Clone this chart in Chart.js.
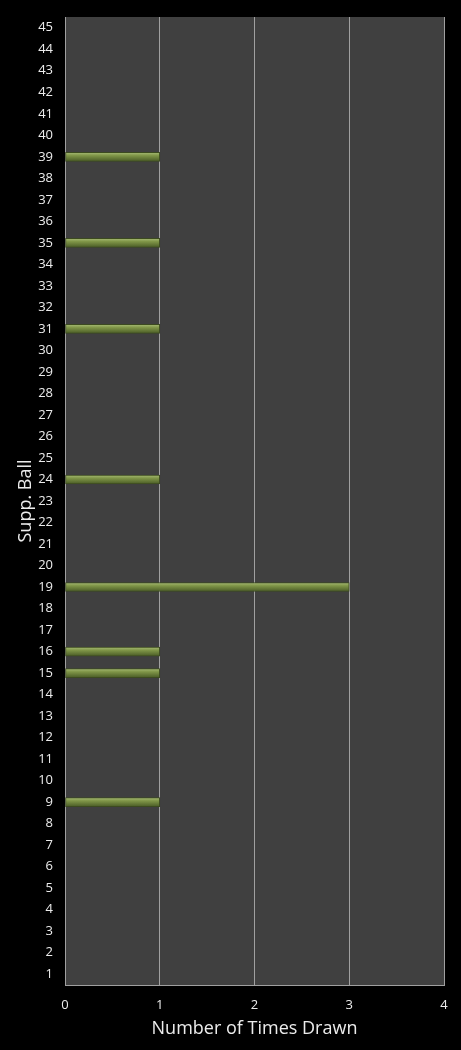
<!DOCTYPE html>
<html>
<head>
<meta charset="utf-8">
<script src="https://cdn.jsdelivr.net/npm/chart.js@4"></script>
<style>
  html, body { margin: 0; padding: 0; background: #000; }
  #wrap { width: 461px; height: 1050px; }
</style>
</head>
<body>
<div id="wrap"><canvas id="grafico"></canvas></div>
<script>
// numeros da bola suplementar (1..45) e quantas vezes sairam
const bolas = [];
for (let i = 1; i <= 45; i++) bolas.push(String(i));
const vezes = [0,0,0,0,0,0,0,0,1,0, 0,0,0,0,1,1,0,0,3,0, 0,0,0,1,0,0,0,0,0,0, 1,0,0,0,1,0,0,0,1,0, 0,0,0,0,0];
const ticksX = [0, 1, 2, 3, 4];

const fonte = "'Open Sans', 'DejaVu Sans', sans-serif";

// fundo cinza da area do grafico
const fundoArea = {
    id: 'fundoArea',
    beforeDraw(chart) {
        const { ctx, chartArea: a } = chart;
        ctx.save();
        ctx.fillStyle = '#404040';
        ctx.fillRect(a.left, a.top, a.right - a.left, a.bottom - a.top);
        ctx.restore();
    }
};

// gradiente verde em cada barra
function corBarra(c) {
    const chart = c.chart;
    const y = chart.scales.y;
    if (!y || c.dataIndex === undefined) return '#6f8440';
    const py = y.getPixelForValue(c.dataIndex);
    if (!isFinite(py)) return '#6f8440';
    const g = chart.ctx.createLinearGradient(0, py - 4.5, 0, py + 4.5);
    g.addColorStop(0, '#a8bc76');
    g.addColorStop(0.35, '#809648');
    g.addColorStop(1, '#4a5c26');
    return g;
}

new Chart(document.getElementById('grafico'), {
    type: 'bar',
    data: {
        labels: bolas,
        datasets: [{
            data: vezes,
            backgroundColor: corBarra,
            borderColor: '#3c4a20',
            borderWidth: 1,
            borderSkipped: false,
            barThickness: 9
        }]
    },
    options: {
        indexAxis: 'y',
        responsive: true,
        maintainAspectRatio: false,
        animation: false,
        layout: { padding: { top: 17, right: 17, bottom: 10, left: 0 } },
        plugins: { legend: { display: false }, tooltip: { enabled: false } },
        scales: {
            x: {
                min: 0, max: 4,
                afterBuildTicks: s => { s.ticks = ticksX.map(v => ({ value: v })); },
                afterFit: s => { s.height = 55; s.paddingLeft = 0; s.paddingRight = 0; },
                grid: { color: '#a0a0a0', drawTicks: false, lineWidth: 1 },
                border: { display: true, color: '#a0a0a0' },
                ticks: { color: '#ececec', font: { family: fonte, size: 13 }, padding: 12 },
                title: {
                    display: true, text: 'Number of Times Drawn', color: '#ececec',
                    font: { family: fonte, size: 18 }, padding: { top: 2, bottom: 0 }
                }
            },
            y: {
                reverse: true,
                afterFit: s => { s.width = 65; s.paddingTop = 0; s.paddingBottom = 0; },
                grid: { display: false, drawTicks: false },
                border: { display: true, color: '#a0a0a0' },
                ticks: { color: '#ececec', font: { family: fonte, size: 13 }, padding: 12, autoSkip: false },
                title: {
                    display: true, text: 'Supp. Ball', color: '#ececec',
                    font: { family: fonte, size: 18 }, padding: { top: 15, bottom: 0 }
                }
            }
        }
    },
    plugins: [fundoArea]
});
</script>
</body>
</html>
